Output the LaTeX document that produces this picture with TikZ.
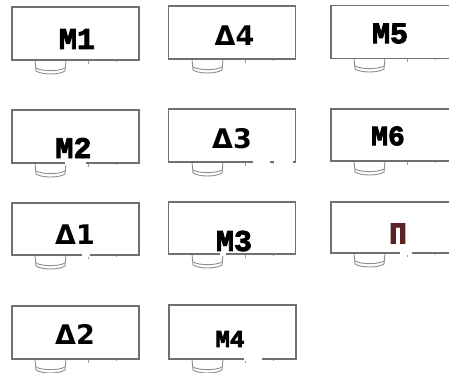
\documentclass[tikz,border=0pt]{standalone}
\usepackage{fontspec}
\newfontfamily\monofnt[BoldFeatures={FakeBold=3}]{Liberation Mono}
\newfontfamily\sansfnt{DejaVu Sans}
\definecolor{edge}{HTML}{707070}
\definecolor{pcol}{HTML}{5A2424}
\begin{document}
\begin{tikzpicture}[x=1pt,y=-1pt,
  desk/.style={draw=edge,line width=1.1pt,fill=white,minimum width=127pt,minimum height=53pt,inner sep=0pt},
  mlab/.style={font=\monofnt\bfseries\fontsize{30}{30}\selectfont,inner sep=0pt,anchor=center},
  dlab/.style={font=\sansfnt\bfseries\fontsize{27}{27}\selectfont,inner sep=0pt,anchor=center},
  chairline/.style={draw=edge!80,line width=0.9pt},
  tick/.style={draw=edge!70,line width=0.8pt},
  gap/.style={fill=white,draw=none}]
\useasboundingbox (0,0) rectangle (449,372);
\clip (0,0) rectangle (449,372);
\newcommand{\chairat}[2]{% #1 = left x of desk, #2 = bottom y of desk
  \draw[chairline] (#1+23,#2) -- (#1+24,#2+11) .. controls (#1+30,#2+15) and (#1+47,#2+15) .. (#1+53,#2+11) -- (#1+54,#2);
  \draw[chairline] (#1+24,#2+8) .. controls (#1+30,#2+11.5) and (#1+47,#2+11.5) .. (#1+53,#2+8);
  \draw[tick] (#1+76,#2) -- (#1+76,#2+4);
  \draw[tick] (#1+104,#2) -- (#1+104,#2+2);
}
\chairat{12}{60}
\chairat{169}{59}
\chairat{331}{58}
\chairat{12}{163}
\chairat{169}{162}
\chairat{331}{161}
\chairat{12}{255}
\chairat{169}{254}
\chairat{331}{253}
\chairat{12}{359}
\chairat{169}{359}
\node[desk] (m1) at (75.5,33.5) {};
\node[desk] (d4) at (232,32.5) {};
\node[desk,minimum width=121pt] (m5) at (391.5,32) {};
\node[desk] (m2) at (75.5,136.5) {};
\node[desk] (d3) at (232,135.5) {};
\node[desk,minimum width=121pt,minimum height=52pt] (m6) at (391.5,135) {};
\node[desk,minimum height=52pt] (d1) at (75.5,229) {};
\node[desk,minimum height=52pt] (m3) at (232,228) {};
\node[desk,minimum width=121pt,minimum height=51pt] (pp) at (391.5,227.5) {};
\node[desk] (d2) at (75.5,332.5) {};
\node[desk,minimum height=54pt] (m4) at (232.5,332) {};
% faded gaps on some desk edges
\fill[gap] (65,161.5) rectangle (86,164.5);
\fill[gap] (253,160.5) rectangle (270,163.5);
\fill[gap] (274,160.5) rectangle (293,163.5);
\fill[gap] (82,253.5) rectangle (90,256.5);
\fill[gap] (220,252.5) rectangle (226,255.5);
\fill[gap] (400,251.5) rectangle (412,254.5);
\fill[gap] (244,357.5) rectangle (262,360.5);
% labels
\node[mlab] (t1) at (77,39) {M1};
\node[dlab] (t2) at (234.5,36) {Δ4};
\node[mlab] (t3) at (390,33.5) {M5};
\node[mlab] (t4) at (73.5,148) {M2};
\node[dlab] (t5) at (232,138.5) {Δ3};
\node[mlab,font=\monofnt\bfseries\fontsize{28}{28}\selectfont] (t6) at (388,136) {M6};
\node[dlab] (t7) at (75,235) {Δ1};
\node[mlab] (t8) at (234,241) {M3};
\node[mlab,text=pcol] (t9) at (398,233.5) {Π};
\node[dlab] (t10) at (75,334) {Δ2};
\node[mlab,font=\monofnt\bfseries\fontsize{24}{24}\selectfont] (t11) at (230,339) {M4};
\end{tikzpicture}
\end{document}
